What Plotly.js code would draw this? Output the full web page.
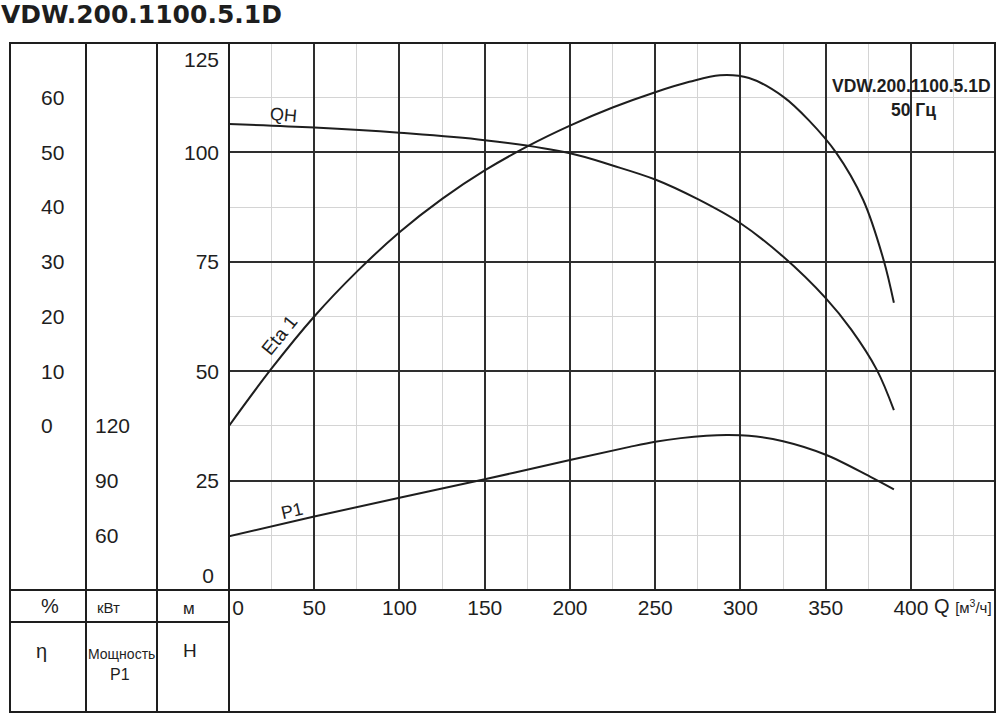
<!DOCTYPE html>
<html>
<head>
<meta charset="utf-8">
<script src="https://cdn.plot.ly/plotly-3.0.1.min.js"></script>
<style>html,body{margin:0;padding:0;background:#fff;}#chart{width:997px;height:714px;}</style>
</head>
<body>
<div id="chart"></div>
<script>
// ---- Data ----
const qQH = [0, 50, 100, 150, 200, 225, 250, 275, 300, 325, 350, 365, 380, 390];
const hQH = [106.5, 105.7, 104.5, 102.8, 99.8, 97.0, 93.8, 89.3, 83.8, 76.2, 66.7, 59.5, 50.3, 41.1];

const qEta = [0, 25, 50, 75, 100, 125, 150, 175, 200, 225, 250, 270, 288, 305, 325, 340, 356, 372, 384, 390];
const etaVals = [0, 10.5, 20.0, 28.2, 35.4, 41.5, 46.7, 51.1, 54.9, 58.2, 61.0, 62.9, 64.1, 63.6, 60.2, 55.9, 50.0, 41.3, 30.3, 22.5];

const qP1 = [0, 50, 100, 150, 200, 235, 250, 265, 280, 292, 305, 325, 350, 376, 390];
const p1Vals = [59.5, 70.3, 80.6, 90.7, 101.3, 108.5, 111.3, 113.3, 114.6, 115.0, 114.6, 111.6, 104.2, 92.2, 85.2];

const xTickVals = [50, 100, 150, 200, 250, 300, 350, 400];
const xTickText = ['50', '100', '150', '200', '250', '300', '350', '400'];
const xFirstTick = [0];
const xFirstText = ['0'];
const hTickVals = [25, 50, 75, 100];
const hTopTick = [125];
const hTopText = ['125'];
const hBottomTick = [0];
const hBottomText = ['0'];
const etaTickVals = [0, 10, 20, 30, 40, 50, 60];
const pTickVals = [60, 90, 120];
const sideTickVals = [12.5, 25, 37.5, 50, 62.5, 75, 87.5, 100, 112.5];

// ---- Geometry helpers (page pixels -> paper fraction) ----
const W = 997, H = 714, ML = 10, MR = 2, MT = 43, MB = 2;
const PW = W - ML - MR, PH = H - MT - MB;
const px = x => (x - ML) / PW;
const py = y => (H - MB - y) / PH;

const SANS = "'Liberation Sans', Arial, sans-serif";
const INK = '#1e1e1e';
const MAJOR = '#2e2e2e';
const MINOR = '#d4d4d4';

const lineStyle = {color: INK, width: 2, shape: 'spline', smoothing: 1};
const traces = [
  {x: qQH, y: hQH, type: 'scatter', mode: 'lines', line: lineStyle, xaxis: 'x', yaxis: 'y', hoverinfo: 'skip'},
  {x: qEta, y: etaVals, type: 'scatter', mode: 'lines', line: lineStyle, xaxis: 'x', yaxis: 'y2', hoverinfo: 'skip'},
  {x: qP1, y: p1Vals, type: 'scatter', mode: 'lines', line: lineStyle, xaxis: 'x', yaxis: 'y3', hoverinfo: 'skip'},
  // empty helper traces so that the label-only axes are registered and drawn
  {x: [], y: [], type: 'scatter', mode: 'lines', xaxis: 'x2', yaxis: 'y', hoverinfo: 'skip'},
  {x: [], y: [], type: 'scatter', mode: 'lines', xaxis: 'x', yaxis: 'y6', hoverinfo: 'skip'},
  {x: [], y: [], type: 'scatter', mode: 'lines', xaxis: 'x', yaxis: 'y7', hoverinfo: 'skip'}
];

const xRange = [0, 449.3];
const hRange = [0, 125];
// the end labels sit slightly inside the frame: their label-only axes use ranges offset by a few units
const xFirstRange = [-5.3, 444.0];
const hTopRange = [3.7, 128.7];
const hBottomRange = [-3.2, 121.8];
const tickFont = {family: SANS, size: 21, color: INK};
const bare = () => ({ticks: '', showgrid: false, showline: false, zeroline: false});

const layout = {
  width: W, height: H,
  margin: {l: ML, r: MR, t: MT, b: MB, pad: 0, autoexpand: false},
  paper_bgcolor: '#fff', plot_bgcolor: '#fff',
  showlegend: false,
  title: {text: 'VDW.200.1100.5.1D', x: 1 / W, xref: 'container', xanchor: 'left',
          y: 1 - 14 / H, yref: 'container', yanchor: 'middle',
          font: {family: "'DejaVu Sans', sans-serif", size: 25, weight: 'bold', color: INK}},
  xaxis: {
    domain: [px(229), 1], range: xRange, anchor: 'y',
    tickmode: 'array', tickvals: xTickVals, ticktext: xTickText,
    ticks: '', showline: false, zeroline: false,
    showgrid: true, gridcolor: MAJOR, gridwidth: 2,
    minor: {tickmode: 'linear', tick0: 0, dtick: 25, showgrid: true, gridcolor: MINOR, gridwidth: 1, ticks: ''},
    tickfont: tickFont, ticklabelstandoff: 3
  },
  xaxis2: Object.assign(bare(), {
    overlaying: 'x', anchor: 'y', range: xFirstRange, side: 'bottom',
    tickmode: 'array', tickvals: xFirstTick, ticktext: xFirstText,
    tickfont: tickFont, ticklabelstandoff: 3
  }),
  yaxis: {
    domain: [py(590), 1], range: hRange, anchor: 'x',
    tickmode: 'array', tickvals: hTickVals,
    ticks: '', showline: false, zeroline: false,
    showgrid: true, gridcolor: MAJOR, gridwidth: 2,
    minor: {tickmode: 'linear', tick0: 0, dtick: 12.5, showgrid: true, gridcolor: MINOR, gridwidth: 1, ticks: ''},
    tickfont: tickFont, ticklabelstandoff: 9
  },
  yaxis6: Object.assign(bare(), {
    overlaying: 'y', anchor: 'x', range: hTopRange, side: 'left',
    tickmode: 'array', tickvals: hTopTick, ticktext: hTopText,
    tickfont: tickFont, ticklabelstandoff: 9
  }),
  yaxis7: Object.assign(bare(), {
    overlaying: 'y', anchor: 'x', range: hBottomRange, side: 'left',
    tickmode: 'array', tickvals: hBottomTick, ticktext: hBottomText,
    tickfont: tickFont, ticklabelstandoff: 14
  }),
  yaxis2: Object.assign(bare(), {
    overlaying: 'y', anchor: 'free', position: px(40), side: 'right',
    range: [-30, 70], tickmode: 'array', tickvals: etaTickVals,
    tickfont: tickFont
  }),
  yaxis3: Object.assign(bare(), {
    overlaying: 'y', anchor: 'free', position: px(94), side: 'right',
    range: [30, 330], tickmode: 'array', tickvals: pTickVals,
    tickfont: tickFont
  }),
  yaxis4: {
    overlaying: 'y', anchor: 'free', position: px(157), side: 'left',
    range: hRange, tickmode: 'array', tickvals: sideTickVals,
    ticks: 'outside', ticklen: 17, tickcolor: MINOR, tickwidth: 1,
    showticklabels: false, showgrid: false, showline: false, zeroline: false
  },
  yaxis5: {
    overlaying: 'y', anchor: 'free', position: px(86), side: 'left',
    range: [-30, 70], tickmode: 'array', tickvals: etaTickVals,
    ticks: 'outside', ticklen: 18, tickcolor: MINOR, tickwidth: 1,
    showticklabels: false, showgrid: false, showline: false, zeroline: false
  },
  shapes: [
    // name box (covers the grid, under the curves)
    {type: 'rect', xref: 'paper', yref: 'paper', x0: px(826), x1: 1, y0: py(152), y1: 1,
     fillcolor: '#fff', line: {color: INK, width: 2}, layer: 'between'},
    // outer frame
    {type: 'rect', xref: 'paper', yref: 'paper', x0: 0, x1: 1, y0: 0, y1: 1,
     line: {color: INK, width: 2}, layer: 'above'},
    // column separators
    {type: 'line', xref: 'paper', yref: 'paper', x0: px(86), x1: px(86), y0: 0, y1: 1, line: {color: INK, width: 2}, layer: 'above'},
    {type: 'line', xref: 'paper', yref: 'paper', x0: px(157), x1: px(157), y0: 0, y1: 1, line: {color: INK, width: 2}, layer: 'above'},
    {type: 'line', xref: 'paper', yref: 'paper', x0: px(229), x1: px(229), y0: 0, y1: 1, line: {color: INK, width: 2}, layer: 'above'},
    // row separators
    {type: 'line', xref: 'paper', yref: 'paper', x0: 0, x1: 1, y0: py(590), y1: py(590), line: {color: INK, width: 2}, layer: 'above'},
    {type: 'line', xref: 'paper', yref: 'paper', x0: 0, x1: px(229), y0: py(622), y1: py(622), line: {color: INK, width: 2}, layer: 'above'}
  ],
  annotations: [
    // units row
    {text: '%', x: px(50), y: py(606), font: {family: SANS, size: 20, color: INK}},
    {text: 'кВт', x: px(108), y: py(607), font: {family: SANS, size: 15, color: INK}},
    {text: 'м', x: px(189), y: py(608), font: {family: SANS, size: 17, color: INK}},
    // names row
    {text: 'η', x: px(41), y: py(651), font: {family: SANS, size: 20, color: INK}},
    {text: 'Мощность', x: px(121), y: py(654), font: {family: SANS, size: 14, color: INK}},
    {text: 'P1', x: px(120), y: py(674), font: {family: SANS, size: 16, color: INK}},
    {text: 'H', x: px(190), y: py(650), font: {family: SANS, size: 19, color: INK}},
    // x axis unit
    {text: 'Q <span style="font-size:15px">[м<sup>3</sup>/ч]</span>', x: px(932), y: py(606), xanchor: 'left',
     font: {family: SANS, size: 20, color: INK}},
    // name box text
    {text: '<b>VDW.200.1100.5.1D</b>', x: px(911), y: py(86), font: {family: SANS, size: 17.5, color: INK}},
    {text: '<b>50 Гц</b>', x: px(913), y: py(110), font: {family: SANS, size: 17.5, color: INK}},
    // curve labels
    {text: 'QH', x: px(283), y: py(115), textangle: 5, font: {family: SANS, size: 18, color: INK}},
    {text: 'Eta 1', x: px(279), y: py(335), textangle: -51, font: {family: SANS, size: 19, color: INK}},
    {text: 'P1', x: px(292), y: py(511), textangle: -13, font: {family: SANS, size: 18, color: INK}}
  ].map(a => Object.assign({xref: 'paper', yref: 'paper', showarrow: false, xanchor: 'center', yanchor: 'middle'}, a))
};

Plotly.newPlot('chart', traces, layout, {staticPlot: true, displayModeBar: false});
</script>
</body>
</html>
